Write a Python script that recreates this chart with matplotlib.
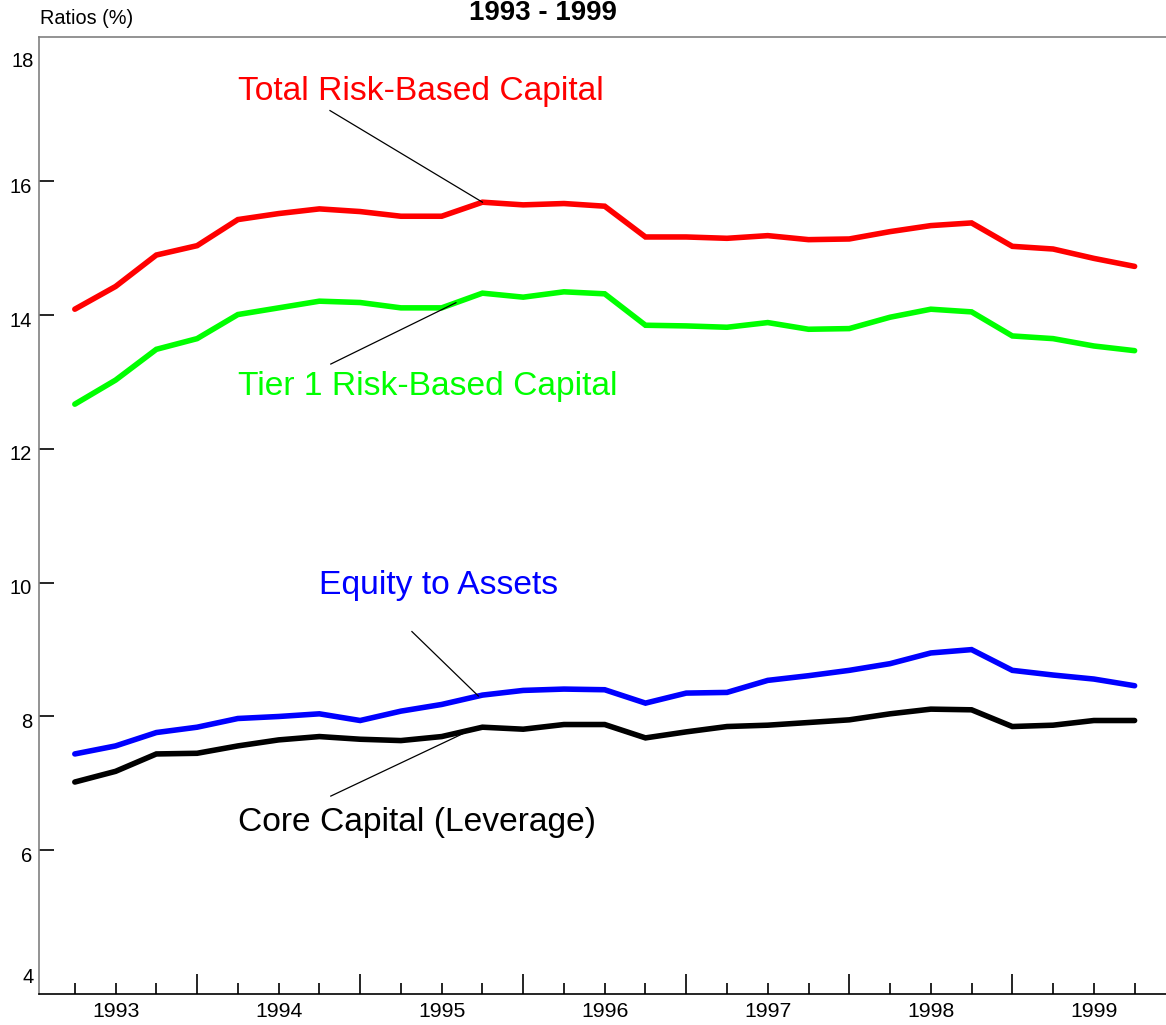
import numpy as np
from matplotlib import pyplot as plt
from matplotlib import transforms

plt.rcParams["font.family"] = ["Liberation Sans", "DejaVu Sans"]

# quarterly ratios, %
total_rbc = [14.09, 14.43, 14.90, 15.04, 15.43, 15.52, 15.59, 15.55, 15.48, 15.48,
             15.69, 15.65, 15.67, 15.63, 15.17, 15.17, 15.15, 15.19, 15.13, 15.14,
             15.25, 15.34, 15.38, 15.03, 14.99, 14.85, 14.73]
tier1_rbc = [12.67, 13.03, 13.49, 13.65, 14.01, 14.11, 14.21, 14.19, 14.11, 14.11,
             14.33, 14.27, 14.35, 14.32, 13.85, 13.84, 13.82, 13.89, 13.79, 13.80,
             13.97, 14.09, 14.05, 13.69, 13.65, 13.54, 13.47]
equity_assets = [7.44, 7.56, 7.76, 7.84, 7.97, 8.00, 8.04, 7.94, 8.08, 8.18,
                 8.32, 8.39, 8.41, 8.40, 8.20, 8.35, 8.36, 8.54, 8.61, 8.69,
                 8.79, 8.95, 9.00, 8.69, 8.62, 8.56, 8.46]
core_capital = [7.02, 7.18, 7.44, 7.45, 7.56, 7.65, 7.70, 7.66, 7.64, 7.70,
                7.84, 7.81, 7.88, 7.88, 7.68, 7.77, 7.85, 7.87, 7.91, 7.95,
                8.04, 8.11, 8.10, 7.85, 7.87, 7.94, 7.94]
years = ["1993", "1994", "1995", "1996", "1997", "1998", "1999"]
y_ticks = [6, 8, 10, 12, 14, 16]

x = np.arange(len(total_rbc))

fig = plt.figure(figsize=(11.66, 10.25), dpi=100)
ax = fig.add_axes([0.0334, 0.0302, 0.9666, 0.9337])

series = [
    (total_rbc, "#ff0000", "Total Risk-Based Capital", (4.0, 17.34), (6.26, 17.06), 10.0),
    (tier1_rbc, "#00ff00", "Tier 1 Risk-Based Capital", (4.0, 12.93), (6.28, 13.27), 9.35),
    (equity_assets, "#0000ff", "Equity to Assets", (6.0, 9.96), (8.27, 9.27), 9.9),
    (core_capital, "#000000", "Core Capital (Leverage)", (4.0, 6.42), (6.28, 6.81), 9.72),
]
for vals, color, name, text_pos, lead_start, lead_x in series:
    ax.plot(x, vals, color=color, linewidth=4.0, solid_capstyle="round",
            solid_joinstyle="miter")
    ax.text(*text_pos, name, color=color, fontsize=24.2, ha="left", va="center")
    # leader line from the label to the curve
    ax.plot([lead_start[0], lead_x], [lead_start[1], np.interp(lead_x, x, vals)],
            color="black", linewidth=0.9)

ax.set_xlim(-0.88, 26.77)
ax.set_ylim(3.85, 18.16)

# year boundaries get long ticks, quarters short ones
boundaries = [i for i in x if i % 4 == 3]
quarters = [i for i in x if i % 4 != 3]
ax.set_xticks(boundaries)
ax.set_xticklabels([])
ax.set_xticks(quarters, minor=True)
ax.set_xticklabels([years[i // 4] if i % 4 == 1 else "" for i in quarters], minor=True)
ax.tick_params(axis="x", which="major", direction="in", length=14.5, width=1.2, color="black")
ax.tick_params(axis="x", which="minor", direction="in", length=8, width=1.2, color="black",
               labelsize=15.3, pad=5.5)

ax.set_yticks(y_ticks)
ax.set_yticklabels([str(v) for v in y_ticks])
ax.tick_params(axis="y", direction="in", length=11, width=1.2, color="black",
               labelsize=14.5, pad=5)
shift = transforms.ScaledTranslation(0, -4 / 100, fig.dpi_scale_trans)
for lab in ax.get_yticklabels():
    lab.set_transform(lab.get_transform() + shift)

# end labels without tick marks
ylab = transforms.blended_transform_factory(ax.transAxes, ax.transData)
for v, ypos in [(18, 17.79), (4, 4.09)]:
    ax.text(-5 / 1127, ypos, str(v), transform=ylab, fontsize=14.5,
            ha="right", va="center")

for side in ["left", "top", "bottom"]:
    ax.spines[side].set_color("#808080")
    ax.spines[side].set_linewidth(1.2)
ax.spines["bottom"].set_color("black")
ax.spines["right"].set_visible(False)

fig.text(40 / 1166, 1 - 18 / 1025, "Ratios (%)", fontsize=14.3, ha="left", va="center")
fig.text(543 / 1166, 1.0, "1993 - 1999", fontsize=20, fontweight="bold",
         ha="center", va="top")

plt.savefig("out.png", dpi=100)
